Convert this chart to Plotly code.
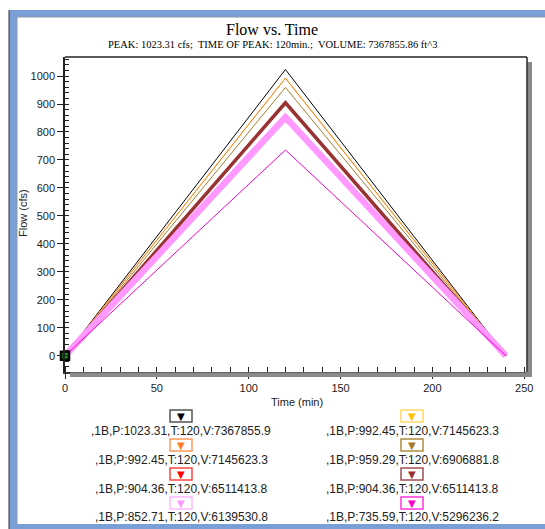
import plotly.graph_objects as go

# ---- data ----
time_min = [0, 120, 240]
series_names = [
    ",1B,P:1023.31,T:120,V:7367855.9",
    ",1B,P:992.45,T:120,V:7145623.3",
    ",1B,P:992.45,T:120,V:7145623.3",
    ",1B,P:959.29,T:120,V:6906881.8",
    ",1B,P:904.36,T:120,V:6511413.8",
    ",1B,P:904.36,T:120,V:6511413.8",
    ",1B,P:852.71,T:120,V:6139530.8",
    ",1B,P:735.59,T:120,V:5296236.2",
]
flow_black = [0, 1023.31, 0]
flow_yellow = [0, 992.45, 0]
flow_orange = [0, 992.45, 0]
flow_tan = [0, 959.29, 0]
flow_red = [0, 904.36, 0]
flow_darkred = [0, 904.36, 0]
flow_pink = [0, 852.71, 0]
flow_magenta = [0, 735.59, 0]
all_flows = [flow_black, flow_yellow, flow_orange, flow_tan, flow_red,
             flow_darkred, flow_pink, flow_magenta]

line_colors = ["#000000", "#FFC000", "#FF7F27", "#A67C2E", "#FF0000",
               "#993333", "#FF99FF", "#FF00CC"]
box_colors = ["#555555", "#FFD966", "#FF9955", "#B08A40", "#FF4444",
              "#A05050", "#FFB8FF", "#FF33DD"]
line_widths = [1, 1, 1, 1, 1, 3.5, 6.5, 1]

x_ticks = [0, 50, 100, 150, 200, 250]
y_ticks = [0, 100, 200, 300, 400, 500, 600, 700, 800, 900, 1000]

title = "Flow vs. Time"
subtitle = "PEAK: 1023.31 cfs;  TIME OF PEAK: 120min.;  VOLUME: 7367855.86 ft^3"

W, H = 545, 529
L, R, T, B = 65, 527, 57, 372


def xp(px):
    return (px - L) / (R - L)


def yp(py):
    return (B - py) / (B - T)


fig = go.Figure()
for name, flows, c, w in zip(series_names, all_flows, line_colors, line_widths):
    fig.add_trace(go.Scatter(x=time_min, y=flows, mode="lines", name=name,
                             line=dict(color=c, width=w), showlegend=False))

# start marker
fig.add_trace(go.Scatter(x=[0], y=[0], mode="markers", showlegend=False,
                         marker=dict(symbol="square", size=8, color="#119911",
                                     line=dict(color="black", width=2.5)),
                         cliponaxis=False))

shapes = []
annotations = []

# window frame
frame_blue = "#7A9FD6"
shapes.append(dict(type="rect", xref="paper", yref="paper", x0=xp(9), x1=xp(548),
                   y0=yp(10), y1=yp(17), fillcolor=frame_blue, line=dict(width=0)))
shapes.append(dict(type="rect", xref="paper", yref="paper", x0=xp(9), x1=xp(17),
                   y0=yp(10), y1=yp(532), fillcolor=frame_blue, line=dict(width=0)))
shapes.append(dict(type="rect", xref="paper", yref="paper", x0=xp(9), x1=xp(548),
                   y0=yp(524), y1=yp(532), fillcolor=frame_blue, line=dict(width=0)))
shapes.append(dict(type="line", xref="paper", yref="paper", x0=xp(9), x1=xp(9),
                   y0=yp(10), y1=yp(532), line=dict(color="#333333", width=1)))
shapes.append(dict(type="line", xref="paper", yref="paper", x0=xp(17), x1=xp(17),
                   y0=yp(17), y1=yp(524), line=dict(color="#8899AA", width=1)))
shapes.append(dict(type="line", xref="paper", yref="paper", x0=xp(17), x1=xp(548),
                   y0=yp(17), y1=yp(17), line=dict(color="#8899AA", width=1)))

# plot shadow
shapes.append(dict(type="rect", xref="paper", yref="paper", x0=xp(527.5), x1=xp(532),
                   y0=yp(62), y1=yp(377), fillcolor="#8A8A8A", line=dict(width=0)))
shapes.append(dict(type="rect", xref="paper", yref="paper", x0=xp(70), x1=xp(532),
                   y0=yp(372.5), y1=yp(377), fillcolor="#8A8A8A", line=dict(width=0)))
# top and right border
shapes.append(dict(type="line", xref="paper", yref="paper", x0=0, x1=1, y0=1, y1=1,
                   line=dict(color="#222222", width=1.5)))
shapes.append(dict(type="line", xref="paper", yref="paper", x0=1, x1=1, y0=0, y1=1,
                   line=dict(color="#222222", width=1.5)))

# legend
col_x = [181, 412]
box_y = [416, 445, 474, 503]
text_y = [431, 460, 489, 517]
for i, name in enumerate(series_names):
    r, c = divmod(i, 2)
    cx, by, ty = col_x[c], box_y[r], text_y[r]
    shapes.append(dict(type="rect", xref="paper", yref="paper",
                       x0=xp(cx - 11), x1=xp(cx + 11), y0=yp(by - 6), y1=yp(by + 6),
                       fillcolor="white", line=dict(color=box_colors[i], width=1.5)))
    annotations.append(dict(xref="paper", yref="paper", x=xp(cx), y=yp(by),
                            text="▼", showarrow=False, xanchor="center", yanchor="middle",
                            font=dict(color=line_colors[i], size=10, family="DejaVu Sans")))
    annotations.append(dict(xref="paper", yref="paper", x=xp(cx), y=yp(ty),
                            text=name, showarrow=False, xanchor="center", yanchor="middle",
                            font=dict(color="#222222", size=12, family="Liberation Sans")))

# titles
annotations.append(dict(xref="paper", yref="paper", x=xp(272), y=yp(29), text=title,
                        showarrow=False, xanchor="center", yanchor="middle",
                        font=dict(family="Liberation Serif", size=16, color="black")))
annotations.append(dict(xref="paper", yref="paper", x=xp(272), y=yp(45), text=subtitle,
                        showarrow=False, xanchor="center", yanchor="middle",
                        font=dict(family="Liberation Serif", size=10.5, color="black")))
annotations.append(dict(xref="paper", yref="paper", x=xp(23), y=yp(213), text="Flow (cfs)",
                        showarrow=False, textangle=-90, xanchor="center", yanchor="middle",
                        font=dict(family="Liberation Sans", size=11, color="#222222")))
annotations.append(dict(xref="paper", yref="paper", x=xp(297), y=yp(402), text="Time (min)",
                        showarrow=False, xanchor="center", yanchor="middle",
                        font=dict(family="Liberation Sans", size=11, color="#222222")))

fig.update_layout(
    width=W, height=H,
    margin=dict(l=L, r=W - R, t=T, b=H - B),
    paper_bgcolor="white", plot_bgcolor="rgba(0,0,0,0)",
    shapes=shapes, annotations=annotations, showlegend=False,
)
fig.update_xaxes(range=[0, 251.5], tickvals=x_ticks, ticks="outside", ticklen=5,
                 tickcolor="#222222", showgrid=False, zeroline=False,
                 showline=True, linecolor="#333333", linewidth=2,
                 tickfont=dict(family="Liberation Sans", size=11, color="#222222"),
                 minor=dict(dtick=10, ticks="inside", ticklen=5, tickcolor="#222222"))
fig.update_yaxes(range=[-58, 1068], tickvals=y_ticks, ticks="outside", ticklen=6,
                 tickcolor="#222222", showgrid=False, zeroline=False,
                 showline=True, linecolor="#222222", linewidth=1.5,
                 tickfont=dict(family="Liberation Sans", size=11, color="#222222"),
                 minor=dict(dtick=20, ticks="inside", ticklen=4, tickcolor="#222222"))

fig.write_html("out.html", config={"displayModeBar": False},
               post_script="document.body.style.margin='0';document.body.style.overflow='hidden';")
